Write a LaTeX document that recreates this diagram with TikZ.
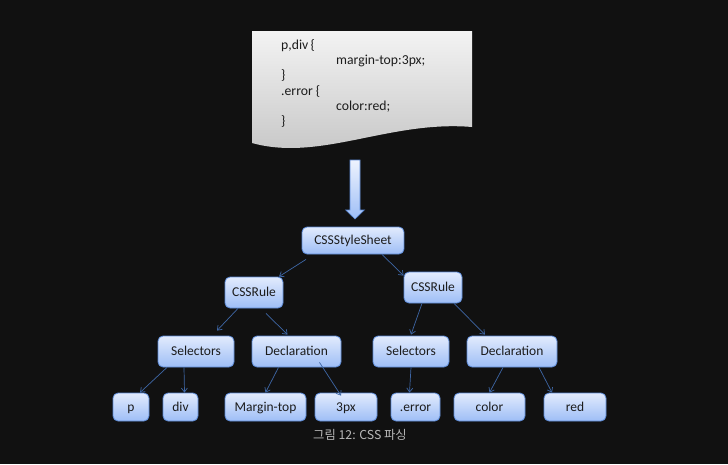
\documentclass[tikz,border=0pt]{standalone}
\usepackage{fontspec}
\setmainfont{Carlito}
\newfontfamily\krfont{Noto Sans CJK KR}
\usetikzlibrary{calc,arrows.meta}
\definecolor{bg}{RGB}{17,17,17}
\definecolor{nodetop}{RGB}{226,235,253}
\definecolor{nodebot}{RGB}{158,190,246}
\definecolor{nodeborder}{RGB}{92,138,214}
\definecolor{nodetext}{RGB}{28,28,28}
\definecolor{conncol}{RGB}{62,102,165}
\definecolor{doctop}{RGB}{243,243,243}
\definecolor{docbot}{RGB}{196,196,196}
\definecolor{captext}{RGB}{185,185,185}
\tikzset{
  box/.style={draw=nodeborder, line width=0.8pt, rounded corners=5pt,
    top color=nodetop, bottom color=nodebot, inner sep=0pt, text=nodetext,
    font=\fontsize{13.5}{14}\selectfont, text height=8.7pt, text depth=0pt,
    minimum height=31pt},
  leaf/.style={box, minimum height=28pt},
  conn/.style={draw=conncol, line width=0.7pt, -{Straight Barb[length=4pt,width=6pt]}},
  doctext/.style={text=nodetext, font=\fontsize{13.7}{14}\selectfont, inner sep=0pt, anchor=base west},
}
\begin{document}
\begin{tikzpicture}[x=1pt,y=-1pt]
\fill[bg] (0,0) rectangle (728,464);
\useasboundingbox (0,0) rectangle (728,464);
% document shape
\path[top color=doctop, bottom color=docbot] (252,31) -- (472,31) -- (472,127)
  .. controls (390,120) and (320,162) .. (252,143) -- cycle;
\node[doctext] (t1) at (281,49.3) {p,div\,\{};
\node[doctext] (t2) at (336,64.6) {margin-top:3px;};
\node[doctext] (t3) at (281,79.9) {\}};
\node[doctext] (t4) at (281,95.2) {.error \{};
\node[doctext] (t5) at (336,110.5) {color:red;};
\node[doctext] (t6) at (281,125.8) {\}};
% block arrow
\path[draw=nodeborder, line width=0.6pt, top color=nodetop!60!white, bottom color=nodebot]
  (350,160) -- (360,160) -- (360,210) -- (364.3,210) -- (355,219) -- (345.7,210) -- (350,210) -- cycle;
% tree nodes
\node[box, minimum width=102pt, minimum height=27pt] (sheet) at (353,240.5) {CSSStyleSheet};
\node[box, minimum width=58pt] (rule1) at (254,292.5) {CSSRule};
\node[box, minimum width=58pt] (rule2) at (433,287.5) {CSSRule};
\node[box, minimum width=76pt] (sel1) at (196,351.5) {Selectors};
\node[box, minimum width=89pt] (dec1) at (296.5,351.5) {Declaration};
\node[box, minimum width=76pt] (sel2) at (411,351.5) {Selectors};
\node[box, minimum width=90pt] (dec2) at (512,351.5) {Declaration};
\node[leaf, minimum width=36pt] (p) at (131,407) {p};
\node[leaf, minimum width=35pt] (div) at (180.5,407) {div};
\node[leaf, minimum width=81pt] (mt) at (265.5,407) {Margin-top};
\node[leaf, minimum width=62pt] (px) at (346,407) {3px};
\node[leaf, minimum width=49pt] (err) at (415.5,407) {.error};
\node[leaf, minimum width=71pt] (col) at (489.5,407) {color};
\node[leaf, minimum width=62pt] (red) at (575,407) {red};
% connectors
\draw[conn] ($(sheet.south)+(-47,5)$) -- ($(rule1.north)+(25,0)$);
\draw[conn] ($(sheet.south)+(29,0)$) -- ($(rule2.north west)+(0,4)$);
\draw[conn] ($(rule1.south)+(-16,0)$) -- ($(sel1.north)+(21,-5)$);
\draw[conn] ($(rule1.south)+(12,5)$) -- ($(dec1.north)+(-9,-1)$);
\draw[conn] ($(sel1.south)+(-29,0)$) -- ($(p.north)+(9,0)$);
\draw[conn] ($(sel1.south)+(-12,0)$) -- ($(div.north)+(4,0)$);
\draw[conn] ($(dec1.south)+(-18,0)$) -- ($(mt.north)+(0,0)$);
\draw[conn] ($(dec1.south)+(23,-5)$) -- ($(px.north)+(-5,3)$);
\draw[conn] ($(rule2.south)+(-11,0)$) -- ($(sel2.north)+(0,-1)$);
\draw[conn] ($(rule2.south)+(21,0)$) -- ($(dec2.north)+(-27,-1)$);
\draw[conn] ($(sel2.south)+(0,0)$) -- ($(err.north)+(-6,0)$);
\draw[conn] ($(dec2.south)+(-9,0)$) -- ($(col.north)+(0,0)$);
\draw[conn] ($(dec2.south)+(27,0)$) -- ($(red.north)+(-23,0)$);
% caption
\node[font=\krfont\fontsize{12.3}{14}\selectfont, text=captext, anchor=base, inner sep=0pt] (cap) at (360,439) {그림 12: CSS 파싱};
\end{tikzpicture}
\end{document}
